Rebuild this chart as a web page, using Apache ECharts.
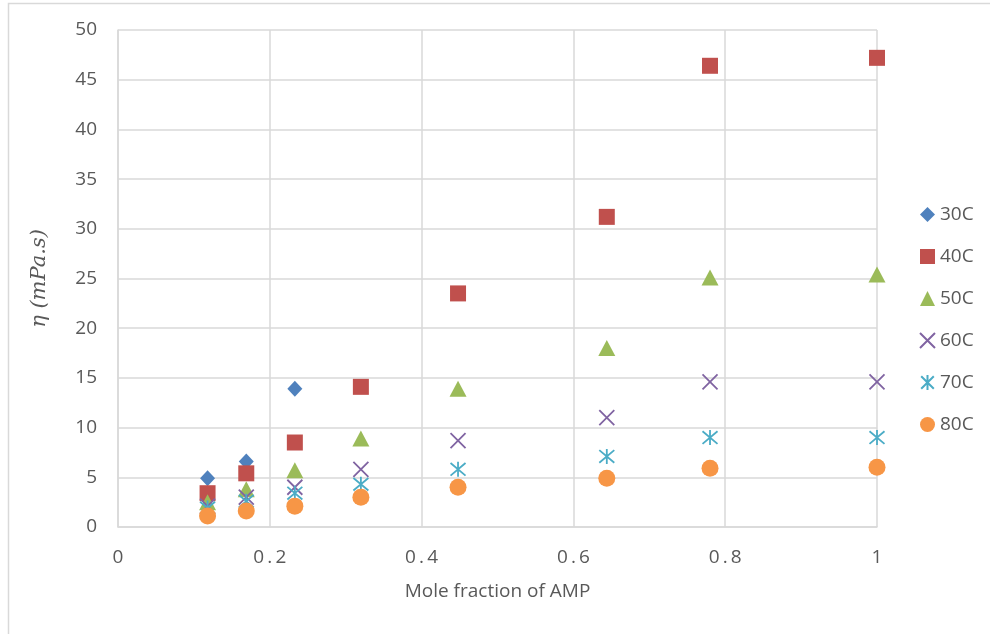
<!DOCTYPE html>
<html>
<head>
<meta charset="utf-8">
<script src="https://cdn.jsdelivr.net/npm/echarts@6/dist/echarts.min.js"></script>
<style>
  html, body { margin: 0; padding: 0; background: #fff; }
  #chart { width: 990px; height: 634px; }
</style>
</head>
<body>
<div id="chart"></div>
<script>
// Mole fraction of AMP (x) shared by every temperature series
const moleFraction = [0.118, 0.169, 0.233, 0.320, 0.448, 0.644, 0.780, 1.0];

// Viscosity η in mPa.s at each temperature
const eta30 = [4.9, 6.6, 13.9];
const eta40 = [3.4, 5.4, 8.5, 14.1, 23.5, 31.2, 46.4, 47.2];
const eta50 = [2.5, 3.8, 5.7, 8.9, 13.9, 18.0, 25.1, 25.4];
const eta60 = [2.1, 3.0, 4.0, 5.8, 8.7, 11.0, 14.6, 14.6];
const eta70 = [1.9, 2.6, 3.4, 4.3, 5.8, 7.1, 9.0, 9.0];
const eta80 = [1.1, 1.6, 2.1, 3.0, 4.0, 4.9, 5.9, 6.0];

const seriesNames = ['30C', '40C', '50C', '60C', '70C', '80C'];

const TEXT = '#595959';
const GRID = '#d9d9d9';
const FONT = '"Open Sans", "Noto Sans", sans-serif';
const FS = 19;

function pairs(values) {
  return values.map((v, i) => [moleFraction[i], v]);
}

const crossPath = 'path://M0,0L10,10M10,0L0,10';
const starPath = 'path://M5,0L5,10M0.8,0.8L9.2,9.2M9.2,0.8L0.8,9.2';

const chart = echarts.init(document.getElementById('chart'), null, { renderer: 'canvas' });

chart.setOption({
  animation: false,
  backgroundColor: '#fff',
  textStyle: { fontFamily: FONT },
  graphic: [{
    type: 'rect',
    shape: { x: 8.5, y: 3.5, width: 1200, height: 1000 },
    style: { fill: 'none', stroke: GRID, lineWidth: 1.5 },
    silent: true
  }],
  grid: { left: 118, right: 113, top: 30, bottom: 107 },
  xAxis: {
    type: 'value',
    min: 0, max: 1, interval: 0.2,
    name: 'Mole fraction of AMP',
    nameLocation: 'middle',
    nameGap: 55,
    nameTextStyle: { color: TEXT, fontSize: FS, fontFamily: FONT },
    axisLine: { show: true, lineStyle: { color: GRID, width: 1.5 } },
    axisTick: { show: false },
    splitLine: { show: true, lineStyle: { color: GRID, width: 1.5 } },
    axisLabel: {
      color: TEXT, fontSize: FS, margin: 21, fontFamily: FONT,
      formatter: v => {
        const s = String(Math.round(v * 10) / 10);
        return s.split('').join('\u2009');
      }
    }
  },
  yAxis: {
    type: 'value',
    min: 0, max: 50, interval: 5,
    name: 'η (mPa.s)',
    nameLocation: 'middle',
    nameGap: 68,
    nameRotate: 90,
    nameTextStyle: { color: TEXT, fontSize: 21, fontStyle: 'italic', fontFamily: '"DejaVu Serif", "Liberation Serif", serif' },
    axisLine: { show: true, lineStyle: { color: GRID, width: 1.5 } },
    axisTick: { show: false },
    splitLine: { show: true, lineStyle: { color: GRID, width: 1.5 } },
    axisLabel: { color: TEXT, fontSize: FS, margin: 21, fontFamily: FONT }
  },
  legend: {
    orient: 'vertical',
    left: 914,
    top: 200,
    itemWidth: 15,
    itemHeight: 15,
    itemGap: 23,
    textStyle: { color: TEXT, fontSize: FS, fontFamily: FONT },
    data: seriesNames
  },
  series: [
    { name: '30C', type: 'scatter', symbol: 'diamond', symbolSize: [15, 16],
      itemStyle: { color: '#4f81bd', opacity: 1 }, data: pairs(eta30) },
    { name: '40C', type: 'scatter', symbol: 'rect', symbolSize: 16,
      itemStyle: { color: '#c0504d', opacity: 1 }, data: pairs(eta40) },
    { name: '50C', type: 'scatter', symbol: 'triangle', symbolSize: [17, 16],
      itemStyle: { color: '#9bbb59', opacity: 1 }, data: pairs(eta50) },
    { name: '60C', type: 'scatter', symbol: crossPath, symbolSize: 15,
      itemStyle: { color: 'rgba(0,0,0,0)', borderColor: '#8064a2', borderWidth: 1.8, opacity: 1 }, data: pairs(eta60) },
    { name: '70C', type: 'scatter', symbol: starPath, symbolSize: 15,
      itemStyle: { color: 'rgba(0,0,0,0)', borderColor: '#4bacc6', borderWidth: 1.8, opacity: 1 }, data: pairs(eta70) },
    { name: '80C', type: 'scatter', symbol: 'circle', symbolSize: 17,
      itemStyle: { color: '#f79646', opacity: 1 }, data: pairs(eta80) }
  ]
});
</script>
</body>
</html>
